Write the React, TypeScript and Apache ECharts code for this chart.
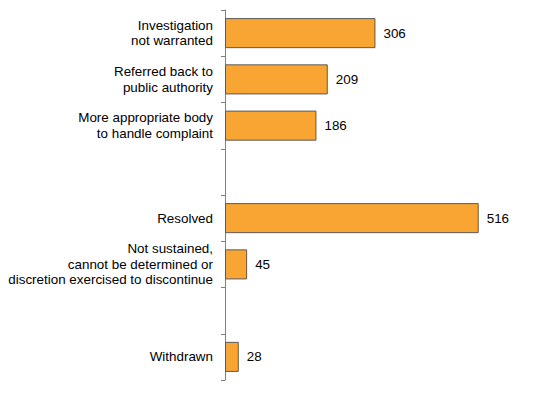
import React, { useEffect, useRef } from "react";
import * as echarts from "echarts";

const categories = [
  "Investigation\nnot warranted",
  "Referred back to\npublic authority",
  "More appropriate body\nto handle complaint",
  "",
  "Resolved",
  "Not sustained,\ncannot be determined or\ndiscretion exercised to discontinue",
  "",
  "Withdrawn",
];
const values: (number | null)[] = [306, 209, 186, null, 516, 45, null, 28];

export default function App() {
  const ref = useRef<HTMLDivElement>(null);
  useEffect(() => {
    const chart = echarts.init(ref.current!, null, { renderer: "svg" });
    chart.setOption({
      animation: false,
      grid: { left: 225, right: 34, top: 10, bottom: 15 },
      xAxis: {
        type: "value",
        min: 0,
        max: 600,
        show: false,
      },
      yAxis: {
        type: "category",
        inverse: true,
        data: categories,
        axisLine: { lineStyle: { color: "#808080", width: 1 } },
        axisTick: { show: true, inside: false, length: 4, lineStyle: { color: "#808080" } },
        axisLabel: {
          color: "#000",
          fontFamily: "Liberation Sans, Arial, sans-serif",
          fontSize: 13.4,
          lineHeight: 15.5,
          margin: 12,
          align: "right",
        },
        splitLine: { show: false },
      },
      series: [
        {
          type: "bar",
          data: values,
          barCategoryGap: "35%",
          itemStyle: { color: "#F9A533", borderColor: "#5a5a5a", borderWidth: 1 },
          label: {
            show: true,
            position: "right",
            distance: 8,
            color: "#000",
            fontFamily: "Liberation Sans, Arial, sans-serif",
            fontSize: 13.4,
          },
        },
      ],
    });
    return () => chart.dispose();
  }, []);
  return <div ref={ref} style={{ width: 554, height: 395, position: "absolute", left: 0, top: 0 }} />;
}
